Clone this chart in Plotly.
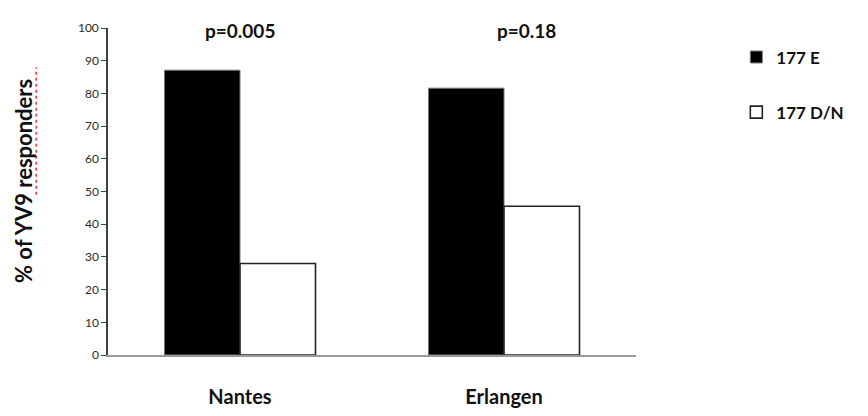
import plotly.graph_objects as go

# Share of YV9 responders by cohort and residue-177 genotype
sites = ["Nantes", "Erlangen"]
pct_177E = [87.1, 81.6]
pct_177DN = [28.0, 45.5]
p_values = ["p=0.005", "p=0.18"]
series_names = ["177 E", "177 D/N"]
y_ticks = [0, 10, 20, 30, 40, 50, 60, 70, 80, 90, 100]

FONT = "Lato, 'Open Sans', sans-serif"

fig = go.Figure()
fig.add_trace(go.Bar(
    x=sites, y=pct_177E, name=series_names[0], legendgroup="e",
    marker=dict(color="black", line=dict(color="#777777", width=1)),
))
fig.add_trace(go.Bar(
    x=sites, y=pct_177DN, name=series_names[1], legendgroup="dn",
    marker=dict(color="white", line=dict(color="#222222", width=1.6)),
))

for site, p in zip(sites, p_values):
    fig.add_annotation(
        x=site, y=1.034, xref="x", yref="paper", text=p, showarrow=False,
        xshift=0 if site == "Nantes" else 22,
        font=dict(family=FONT, size=19, color="#111111", weight="bold"),
    )

# rotated axis title
fig.add_annotation(
    x=-0.161, y=0.532, xref="paper", yref="paper", text="% of YV9 responders",
    textangle=-90, showarrow=False, xanchor="center", yanchor="middle",
    font=dict(family=FONT, size=22, color="#111111", weight="bold"),
)

# spell-check style dotted underline beside "responders"
fig.add_shape(
    type="line", xref="paper", yref="paper",
    x0=-0.136, x1=-0.136, y0=0.49, y1=0.88,
    line=dict(color="#ff2a2a", width=1.5, dash="dot"),
)

fig.update_layout(
    width=868, height=416,
    margin=dict(l=108, r=232, t=28, b=61),
    paper_bgcolor="white", plot_bgcolor="white",
    barmode="group", bargap=0.428, bargroupgap=0,
    showlegend=True,
    legend=dict(
        x=1.19, y=0.965, xanchor="left", yanchor="top",
        font=dict(family=FONT, size=17, color="#111111", weight="bold"),
        tracegroupgap=30, bgcolor="rgba(0,0,0,0)",
    ),
    xaxis=dict(
        range=[-0.5, 1.5], showline=True, linecolor="#9a9a9a", linewidth=1.5,
        ticks="", showgrid=False, zeroline=False, ticklabelstandoff=23,
        automargin=False,
        tickfont=dict(family=FONT, size=20, color="#111111", weight="bold"),
    ),
    yaxis=dict(
        range=[0, 100], tickvals=y_ticks, showline=True, linecolor="#404040",
        linewidth=1.5, ticks="outside", ticklen=5, tickcolor="#404040",
        showgrid=False, zeroline=False, automargin=False,
        tickfont=dict(family=FONT, size=12, color="#2a2a2a"),
    ),
)

fig.write_html("out.html")
